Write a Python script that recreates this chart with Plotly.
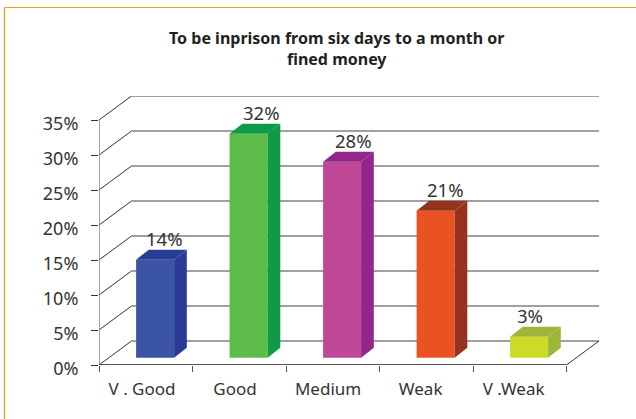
import plotly.graph_objects as go

categories = ["V . Good", "Good", "Medium", "Weak", "V .Weak"]
values = [14, 32, 28, 21, 3]
labels = ["14%", "32%", "28%", "21%", "3%"]
y_ticks = [0, 5, 10, 15, 20, 25, 30, 35]
y_labels = ["0%", "5%", "10%", "15%", "20%", "25%", "30%", "35%"]
front_colors = ["#3B54A4", "#5DBB4A", "#BF4899", "#E95322", "#CBDB26"]
dark_colors = ["#283C96", "#109A48", "#92268A", "#95331E", "#9DB63A"]
label_shift = [-3, 0, -1, -3, -12]
category_nudge = [-0.04, -0.045, -0.05, -0.06, -0.065]

FONT = "Noto Sans"
TXT = "#333333"
W, H = 636, 419
L, R, T, B = 99, 599, 96, 365
CELL = 93.5
UNIT = 7.0
WALL_DX, WALL_DY = 32.5 / CELL, 24 / UNIT
BAR_DX, BAR_DY = 12.7 / CELL, 10 / UNIT
BAR_W = 38 / CELL
BAR_OFF, BAR_BASE = 0.1, 1.05
n = len(categories)
x0, x1 = -0.5, n - 0.5


def px(x):
    return (x - L) / (R - L)


def py(y):
    return (B - y) / (B - T)


shapes = []
for v in y_ticks:
    shapes.append(dict(type="line", xref="x", yref="y", layer="below",
                       x0=x0 + WALL_DX, x1=x1 + WALL_DX, y0=v + WALL_DY, y1=v + WALL_DY,
                       line=dict(color="#808080", width=1.6)))
    shapes.append(dict(type="line", xref="x", yref="y", layer="below",
                       x0=x0, x1=x0 + WALL_DX, y0=v, y1=v + WALL_DY,
                       line=dict(color="#333333", width=1)))
shapes.append(dict(type="line", xref="x", yref="y", layer="below",
                   x0=x1, x1=x1 + WALL_DX, y0=0, y1=WALL_DY,
                   line=dict(color="#333333", width=1)))
shapes.append(dict(type="line", xref="x", yref="y", x0=x0, x1=x0, y0=0, y1=35,
                   line=dict(color="#7f7f7f", width=1.4)))
shapes.append(dict(type="line", xref="x", yref="y", x0=x0, x1=x1, y0=0, y1=0,
                   line=dict(color="#231F20", width=1.4)))
# orange frame
shapes.append(dict(type="line", xref="paper", yref="paper",
                   x0=px(4.5), x1=px(4.5), y0=py(7.5), y1=py(419),
                   line=dict(color="#F7941D", width=1.2)))
shapes.append(dict(type="line", xref="paper", yref="paper",
                   x0=px(4.5), x1=px(636), y0=py(7.5), y1=py(7.5),
                   line=dict(color="#F7941D", width=1.2)))

fig = go.Figure()
fig.add_trace(go.Bar(
    x=list(range(n)), y=values, base=BAR_BASE, width=BAR_W, offset=BAR_OFF - BAR_W / 2,
    marker=dict(color=front_colors, line=dict(width=0)), showlegend=False))

for i, v in enumerate(values):
    a = i + BAR_OFF - BAR_W / 2
    b = a + BAR_W
    y0 = BAR_BASE
    y1 = BAR_BASE + v
    fig.add_trace(go.Scatter(
        x=[b, b + BAR_DX, b + BAR_DX, b, b], y=[y0, y0 + BAR_DY, y1 + BAR_DY, y1, y0],
        mode="lines", fill="toself", fillcolor=dark_colors[i], line=dict(width=0),
        showlegend=False, hoverinfo="skip"))
    fig.add_trace(go.Scatter(
        x=[a, a + BAR_DX, b + BAR_DX, b, a], y=[y1, y1 + BAR_DY, y1 + BAR_DY, y1, y1],
        mode="lines", fill="toself", fillcolor=dark_colors[i], line=dict(width=0),
        showlegend=False, hoverinfo="skip"))

annotations = [
    dict(x=i + BAR_OFF + BAR_DX, y=BAR_BASE + v + BAR_DY, xref="x", yref="y", text=labels[i],
         showarrow=False, yanchor="bottom", xanchor="center", xshift=label_shift[i], yshift=-3,
         font=dict(family=FONT, size=18.5, color=TXT))
    for i, v in enumerate(values)
]
annotations.append(dict(
    x=px(336), y=py(48), xref="paper", yref="paper", showarrow=False,
    xanchor="center", yanchor="middle",
    text="To be inprison from six days to a month or<br>fined money",
    font=dict(family=FONT, size=16, color="#231F20", weight="bold")))

fig.update_layout(
    width=W, height=H, autosize=False,
    margin=dict(l=L, r=W - R, t=T, b=H - B, pad=0),
    paper_bgcolor="white", plot_bgcolor="rgba(0,0,0,0)",
    showlegend=False, shapes=shapes, annotations=annotations,
    xaxis=dict(range=[x0, x1 + WALL_DX],
               tickvals=[i + category_nudge[i] for i in range(n)], ticktext=categories,
               ticks="", showgrid=False, zeroline=False, showline=False,
               tickfont=dict(family=FONT, size=17, color=TXT), ticklabelstandoff=12,
               minor=dict(tickvals=[i - 0.5 for i in range(n + 1)], ticks="outside",
                          ticklen=6, tickwidth=1, tickcolor="#555555", showgrid=False)),
    yaxis=dict(range=[0, 35 + WALL_DY], tickvals=y_ticks, ticktext=y_labels,
               ticks="outside", ticklen=7, tickwidth=1, tickcolor="#333333",
               showgrid=False, zeroline=False, showline=False,
               ticklabelstandoff=9, ticklabelshift=4,
               tickfont=dict(family=FONT, size=18, color=TXT)),
)
fig.write_html("out.html", config={"displayModeBar": False},
               post_script="document.body.style.margin='0';document.documentElement.style.overflow='hidden';")
